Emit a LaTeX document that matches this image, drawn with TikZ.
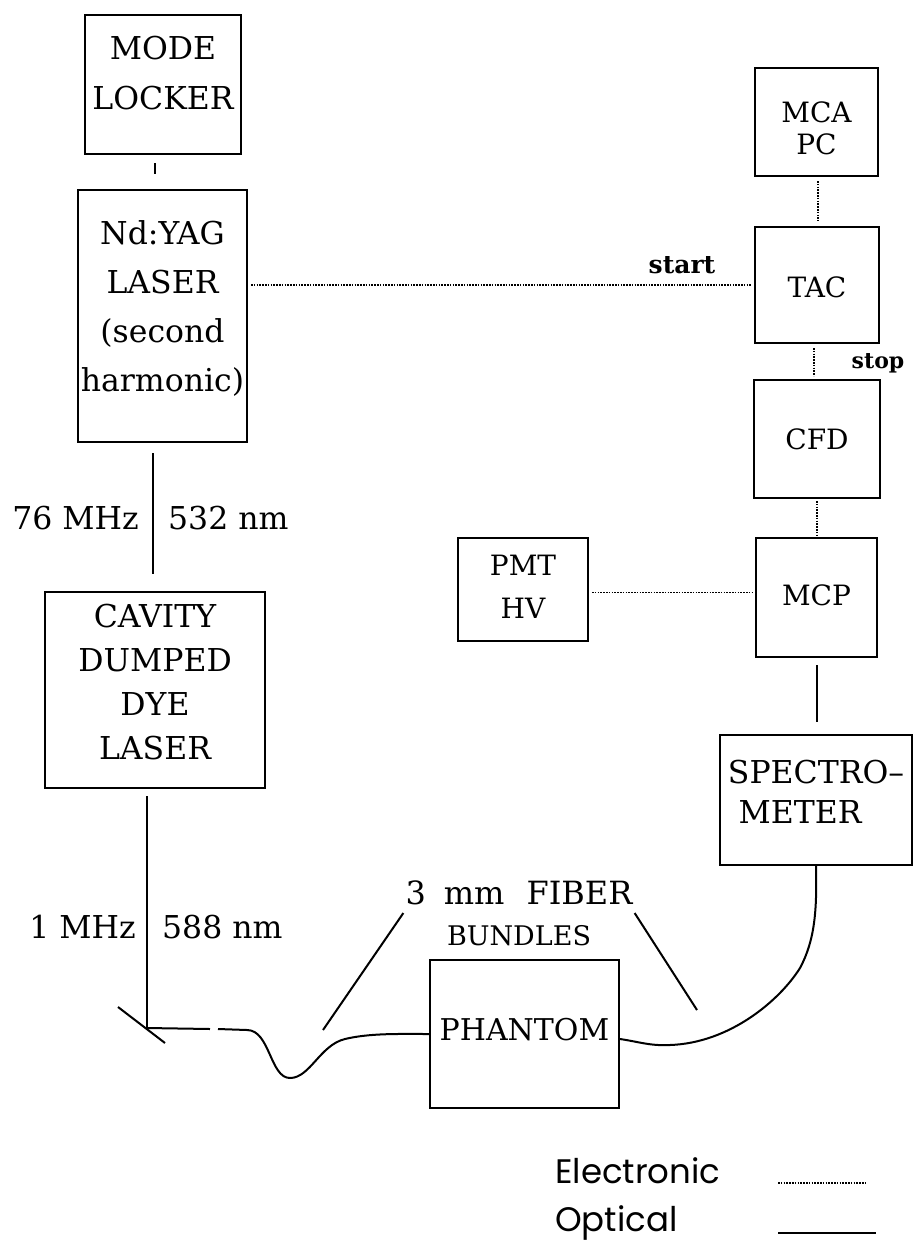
\documentclass[tikz,border=0pt]{standalone}
\usepackage{fontspec}
\setmainfont{DejaVu Serif}
\newfontfamily\legendfont{Poppins}
\usetikzlibrary{calc,positioning}
\tikzset{
  box/.style={draw,line width=2pt,inner sep=0pt},
  boxtxt/.style={align=center,inner sep=0pt},
  elec/.style={line width=1.8pt,dash pattern=on 1.6pt off 1.2pt},
  optic/.style={line width=2pt},
  lbl/.style={font=\fontsize{31.5}{38}\selectfont,inner sep=2pt},
  legtxt/.style={font=\legendfont\fontsize{34}{40}\selectfont,inner sep=0pt}
}

\begin{document}
\begin{tikzpicture}[x=1pt,y=-1pt]
\useasboundingbox (0,0) rectangle (914,1247);
% lasers (left column)
\node[box,minimum width=156,minimum height=139,
  label={[boxtxt,font=\fontsize{31.5}{50}\selectfont,yshift=11.5pt]center:{MODE\\LOCKER}}] (mode) at (163,84.5) {};
\node[box,minimum width=169,minimum height=252,
  label={[boxtxt,font=\fontsize{31.5}{49}\selectfont,yshift=8pt]center:{Nd:YAG\\LASER\\(second\\harmonic)}}] (nd) at (162.5,316) {};
\node[box,minimum width=220,minimum height=196,
  label={[boxtxt,font=\fontsize{31.5}{44}\selectfont,yshift=7.5pt]center:{CAVITY\\DUMPED\\DYE\\LASER}}] (dye) at (155,690) {};
\coordinate (mirror) at (147,1028);
% detection electronics (right column)
\node[box,minimum width=123,minimum height=108,
  label={[boxtxt,font=\fontsize{28}{32}\selectfont,yshift=-6pt]center:{MCA\\PC}}] (mca) at (816.5,122) {};
\node[box,minimum width=124,minimum height=116,
  label={[boxtxt,font=\fontsize{28}{32}\selectfont,yshift=-2pt]center:TAC}] (tac) at (817,285) {};
\node[box,minimum width=126,minimum height=118,
  label={[boxtxt,font=\fontsize{28}{32}\selectfont]center:CFD}] (cfd) at (817,439) {};
\node[box,minimum width=121,minimum height=119,
  label={[boxtxt,font=\fontsize{28}{32}\selectfont,yshift=2.5pt]center:MCP}] (mcp) at (816.5,597.5) {};
\node[box,minimum width=130,minimum height=103,
  label={[boxtxt,font=\fontsize{28}{43}\selectfont,yshift=3pt]center:{PMT\\HV}}] (pmt) at (523,589.5) {};
\node[box,minimum width=192,minimum height=130,
  label={[boxtxt,font=\fontsize{31.5}{40}\selectfont,yshift=8.5pt]center:{SPECTRO--\\METER\hspace*{32pt}}}] (spec) at (816,800) {};
\node[box,minimum width=189,minimum height=148,
  label={[boxtxt,font=\fontsize{30}{36}\selectfont,yshift=4pt]center:PHANTOM}] (phantom) at (524.5,1034) {};

% labels
\node[lbl,anchor=east] (rep76) at (141,518) {76 MHz};
\node[lbl,anchor=west] (wl532) at (166,518) {532 nm};
\node[lbl,anchor=east] (rep1) at (138,927) {1 MHz};
\node[lbl,anchor=west] (wl588) at (160,927) {588 nm};
\node[font=\fontsize{25}{30}\selectfont\bfseries] (start) at (682,265) {start};
\node[font=\fontsize{22}{26}\selectfont\bfseries] (stop) at (878,363) {stop};
\node[lbl,align=center,font=\fontsize{32}{41}\selectfont] (fiber) at (519,913)
  {3\hspace{18pt}mm\hspace{22pt}FIBER\\{\fontsize{27}{30}\selectfont BUNDLES}};
\coordinate (ptA) at (323,1030);
\coordinate (ptB) at (697,1010);

% optical paths
\draw[optic,shorten <=8pt,shorten >=15pt] ([xshift=-8pt]mode.south) -- ([xshift=-7.5pt]nd.north);
\draw[optic,shorten <=10pt,shorten >=17pt] ([xshift=-9.5pt]nd.south) -- ([xshift=-2pt]dye.north);
\draw[optic,shorten <=7pt] ([xshift=-8pt]dye.south) -- (mirror);
\draw[optic] ([shift={(-29,-21)}]mirror) -- ([shift={(18,15)}]mirror);
\draw[optic] (mirror) -- (210,1029);
\draw[optic] (218,1029) -- (247,1030) .. controls (270,1030) and (270,1078) .. (290,1078)
  .. controls (310,1078) and (320,1045) .. (345,1039) .. controls (370,1033) and (400,1034) .. (phantom.west);
\draw[optic] ([yshift=-5pt]phantom.east) .. controls (640,1042) and (650,1046) .. (670,1045)
  .. controls (730,1043) and (780,1000) .. (800,968) .. controls (815,940) and (817,910) .. (spec.south);
\draw[optic,shorten <=7pt,shorten >=12pt] (mcp.south) -- (mcp.south |- spec.north);
\draw[optic] (fiber.west) -- (ptA);
\draw[optic] (fiber.east) -- (ptB);

% electronic connections
\draw[elec,shorten <=3pt,shorten >=2pt] (nd.east |- tac.west) -- (tac.west);
\draw[elec,shorten <=4pt,shorten >=5pt] ([xshift=1.5pt]mca.south) -- ([xshift=1pt]tac.north);
\draw[elec,shorten <=4pt,shorten >=3pt] ([xshift=-3pt]tac.south) -- ([xshift=-3pt]cfd.north);
\draw[elec,shorten <=2pt,shorten >=2pt] (cfd.south) -- (cfd.south |- mcp.north);
\draw[elec,shorten <=3pt,shorten >=3pt] ([yshift=-3pt]pmt.east) -- ([yshift=-3pt]pmt.east -| mcp.west);

% legend
\coordinate (legx) at (778,0);
\node[legtxt,anchor=base west] (eleg) at (555,1183) {Electronic};
\node[legtxt,anchor=base west] (oleg) at (555,1231) {Optical};
\draw[elec,line width=1.2pt] (eleg.base -| legx) -- ++(89,0);
\draw[optic] ([yshift=-2pt]oleg.base -| legx) -- ++(98,0);
\end{tikzpicture}
\end{document}
